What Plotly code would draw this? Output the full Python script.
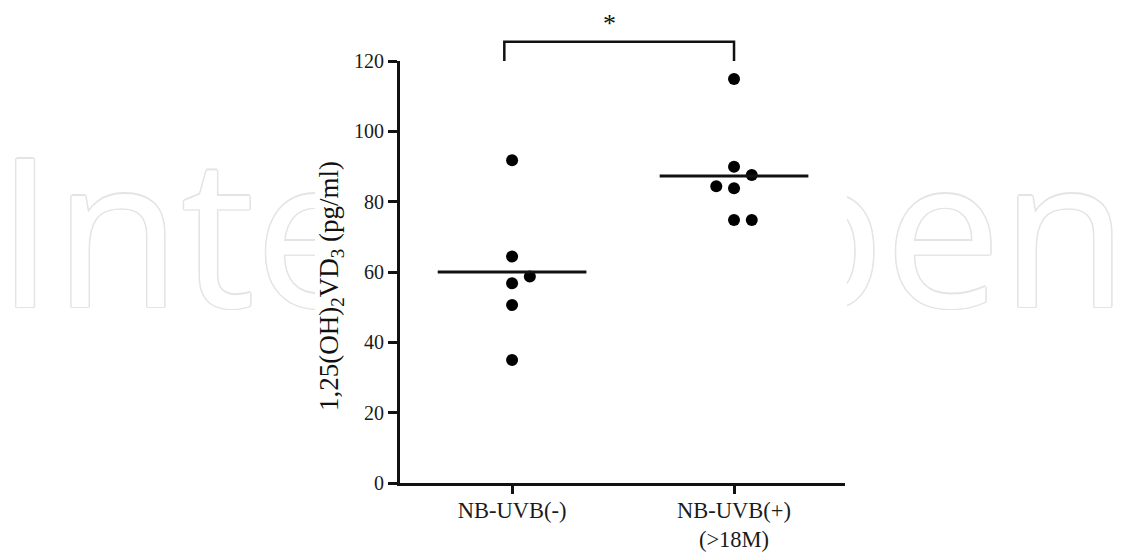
import plotly.graph_objects as go

# ---------------- data ----------------
categories = ["NB-UVB(-)", "NB-UVB(+)<br>(>18M)"]
group1_values = [91.8, 64.4, 58.7, 56.8, 50.6, 35.0]
group1_offset = [0, 0, 0.08, 0, 0, 0]
group2_values = [114.9, 89.9, 87.6, 84.4, 83.8, 74.8, 74.8]
group2_offset = [0, 0, 0.08, -0.08, 0, 0, 0.08]
medians = [60.0, 87.3]
y_ticks = [0, 20, 40, 60, 80, 100, 120]
y_max = 120
bracket_x = [0.965, 2.0]
bracket_top = 125.5
bracket_bottom = 120.0
sig_label = "*"
sig_y = 130.8
y_title = "1,25(OH)<sub>2</sub>VD<sub>3</sub> (pg/ml)"
watermark = "IntechOpen"

# page body has an 8px margin; lay the figure out in screen pixels
OFF = 8
W, H = 1145 - OFF, 552
def fx(px):
    return (px - OFF) / W
def fy(py):
    return 1 - (py - OFF) / H

serif = "Liberation Serif, Times New Roman, serif"
ink = "#111111"
wm = "#e4e4e4"

fig = go.Figure()

# ---- background watermark layer (subplot xy, full page, screen pixel coords) ----
fig.add_trace(go.Scatter(
    x=[562], y=[255], mode="text", text=[watermark],
    textposition="middle center",
    textfont=dict(family="Open Sans", size=207, color="white", weight=500,
                  shadow=(f"1.5px 0 0 {wm}, -1.5px 0 0 {wm}, 0 1.5px 0 {wm}, 0 -1.5px 0 {wm},"
                          f"1px 1px 0 {wm}, -1px -1px 0 {wm}, 1px -1px 0 {wm}, -1px 1px 0 {wm}")),
    hoverinfo="skip", showlegend=False, xaxis="x", yaxis="y"))
# white mask where the chart sits
fig.add_trace(go.Scatter(
    x=[315, 847, 847, 315, 315], y=[0, 0, 600, 600, 0], mode="lines",
    fill="toself", fillcolor="white", line=dict(width=0, color="white"),
    hoverinfo="skip", showlegend=False, xaxis="x", yaxis="y"))

# ---- main chart (subplot x2y2) ----
xs1 = [1 + o for o in group1_offset]
xs2 = [2 + o for o in group2_offset]
fig.add_trace(go.Scatter(x=xs1, y=group1_values, mode="markers",
                         marker=dict(size=12, color="black"),
                         showlegend=False, xaxis="x2", yaxis="y2", cliponaxis=False))
fig.add_trace(go.Scatter(x=xs2, y=group2_values, mode="markers",
                         marker=dict(size=12, color="black"),
                         showlegend=False, xaxis="x2", yaxis="y2", cliponaxis=False))

half = 0.335
for i, m in enumerate(medians):
    c = i + 1
    fig.add_trace(go.Scatter(x=[c - half, c + half], y=[m, m], mode="lines",
                             line=dict(color=ink, width=3),
                             showlegend=False, xaxis="x2", yaxis="y2"))

# significance bracket (above the axis range)
b0, b1 = bracket_bottom / y_max, bracket_top / y_max
fig.add_shape(type="path",
              path=f"M {bracket_x[0]},{b0} L {bracket_x[0]},{b1} L {bracket_x[1]},{b1} L {bracket_x[1]},{b0}",
              xref="x2", yref="y2 domain", line=dict(color=ink, width=2.5))
fig.add_annotation(x=1.44, y=sig_y / y_max, xref="x2", yref="y2 domain",
                   text=sig_label, showarrow=False,
                   font=dict(family=serif, size=26, color=ink),
                   xanchor="center", yanchor="middle")

# y-axis title
fig.add_annotation(x=fx(331), y=fy(286), xref="paper", yref="paper",
                   text=y_title, textangle=-90, showarrow=False,
                   font=dict(family=serif, size=27, color=ink),
                   xanchor="center", yanchor="middle")

fig.update_layout(
    width=W, height=H,
    margin=dict(l=0, r=0, t=0, b=0, autoexpand=False),
    paper_bgcolor="white", plot_bgcolor="white",
    showlegend=False,
    xaxis=dict(domain=[0, 1], range=[OFF, OFF + W], visible=False, fixedrange=True, automargin=False),
    yaxis=dict(domain=[0, 1], range=[OFF + H, OFF], visible=False, fixedrange=True, automargin=False),
    xaxis2=dict(domain=[fx(400), fx(845)], range=[0.495, 2.5], anchor="y2",
                automargin=False,
                tickmode="array", tickvals=[1, 2], ticktext=categories,
                showline=True, linecolor=ink, linewidth=3,
                ticks="outside", ticklen=8, tickwidth=2.5, tickcolor=ink,
                ticklabelstandoff=-3,
                showgrid=False, zeroline=False,
                tickfont=dict(family=serif, size=22.5, color="#1a1a1a")),
    yaxis2=dict(domain=[fy(483), fy(61)], range=[0, y_max], anchor="x2",
                automargin=False,
                tickmode="array", tickvals=y_ticks,
                showline=True, linecolor=ink, linewidth=3,
                ticks="outside", ticklen=9, tickwidth=2.5, tickcolor=ink,
                showgrid=False, zeroline=False,
                tickfont=dict(family=serif, size=20, color="#1a1a1a")),
)

fig.write_html("out.html")
